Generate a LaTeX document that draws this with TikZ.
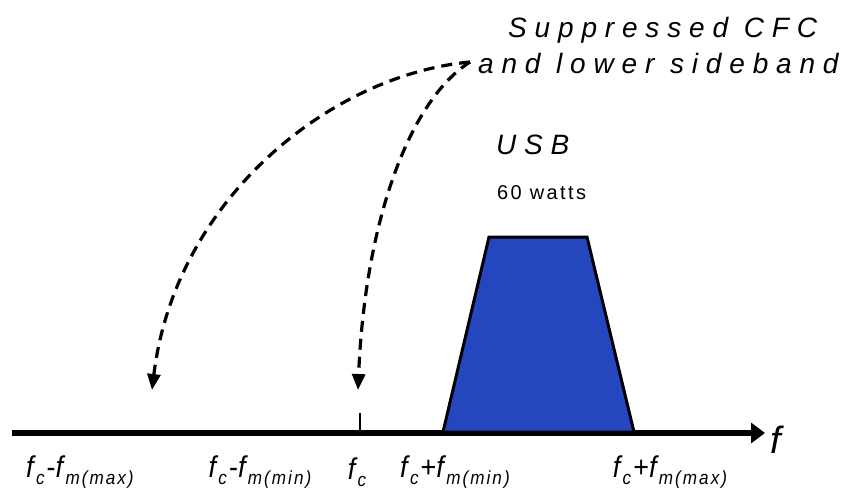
\documentclass[tikz,border=0pt]{standalone}
\usepackage{fontspec}
\setmainfont{Liberation Sans}
\usetikzlibrary{arrows.meta}
\definecolor{usbblue}{HTML}{2447C0}
\newcommand{\fsb}[1]{\textit{f}\raisebox{-0.45ex}{\fontsize{19}{19}\selectfont\addfontfeature{LetterSpace=12}\textit{#1}}}
\tikzset{
  lbl/.style={inner sep=0pt, font=\fontsize{30}{30}\selectfont},
  spaced/.style={inner sep=0pt, font=\fontsize{28}{28}\selectfont\itshape\addfontfeature{LetterSpace=28}},
  dasharrow/.style={line width=3.2pt, dash pattern=on 11pt off 7pt, -{Triangle[length=16pt,width=13pt]}},
}
\begin{document}
\begin{tikzpicture}[x=1pt,y=-1pt]
\useasboundingbox (0,0) rectangle (852,491);
% axis
\coordinate (a0) at (12,433);
\coordinate (a1) at (765,433);
\draw[line width=6pt, -{Triangle[length=14pt,width=20pt]}] (a0) -- (a1);
\coordinate (t0) at (360,433);
\coordinate (t1) at (360,413);
\draw[line width=1.5pt] (t0) -- (t1);
% USB band
\draw[line width=3pt, fill=usbblue, line join=miter] (443,432) -- (489,237) -- (587,237) -- (634,432) -- cycle;
% labels
\node[spaced, anchor=west] (sup) at (508,30) {Suppressed CFC};
\node[spaced, anchor=west] (low) at (478,63) {and lower sideband};
\node[spaced, anchor=west] (usb) at (496,145) {USB};
\node[inner sep=0pt, font=\fontsize{20}{20}\selectfont\addfontfeature{LetterSpace=12}, anchor=west] (w) at (497,193) {60 watts};
\node[inner sep=0pt, font=\fontsize{38}{38}\selectfont\itshape] (f) at (776,440) {f};
\node[lbl] (l1) at (81,472) {\scalebox{0.9}[1]{\fsb{c}-\fsb{m(max)}}};
\node[lbl] (l2) at (261,472) {\scalebox{0.9}[1]{\fsb{c}-\fsb{m(min)}}};
\node[lbl] (l3) at (358,472) {\scalebox{0.9}[1]{\fsb{c}}};
\node[lbl] (l4) at (456,472) {\scalebox{0.9}[1]{\fsb{c}+\fsb{m(min)}}};
\node[lbl] (l5) at (671,472) {\scalebox{0.9}[1]{\fsb{c}+\fsb{m(max)}}};
% arrows
\coordinate (src) at (470,62);
\coordinate (e1) at (152,390);
\coordinate (e2) at (358,390);
\draw[dasharrow] (src) .. controls (330,75) and (175,200) .. (e1);
\draw[dasharrow] (src) .. controls (410,100) and (365,220) .. (e2);
\end{tikzpicture}
\end{document}
